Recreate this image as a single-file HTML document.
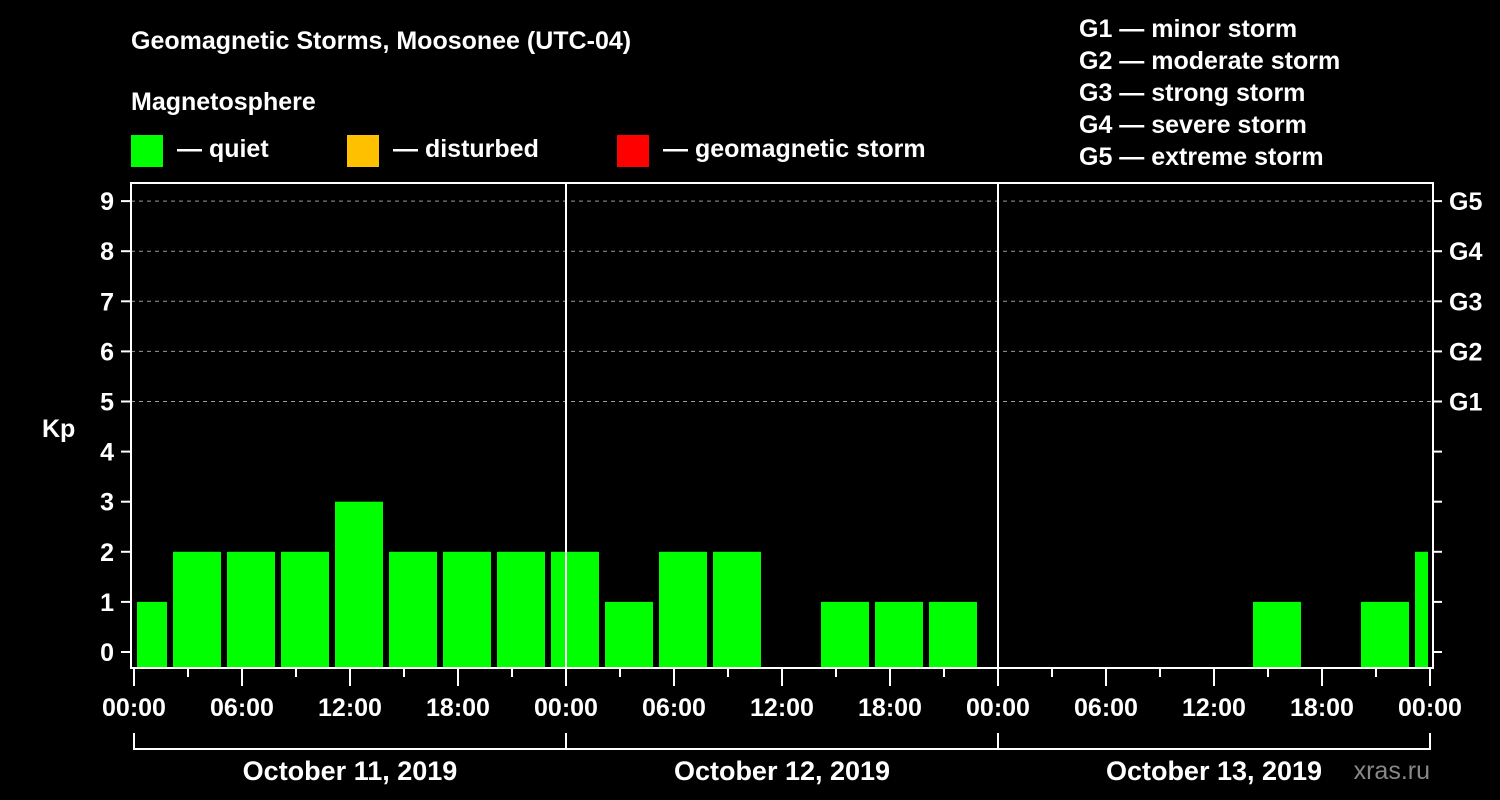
<!DOCTYPE html>
<html><head><meta charset="utf-8"><style>
html,body{margin:0;padding:0;background:#000;}
svg{display:block;font-family:"Liberation Sans",Arial,sans-serif;font-weight:bold;}
</style></head><body>
<svg id="chart" width="1500" height="800" viewBox="0 0 1500 800">
<rect x="0" y="0" width="1500" height="800" fill="#000"/>
<text x="131" y="49" fill="#fff" font-size="25">Geomagnetic Storms, Moosonee (UTC-04)</text>
<text x="131" y="110" fill="#fff" font-size="25">Magnetosphere</text>
<g><rect x="131" y="135" width="32" height="32" fill="#00ff00"/><text x="177" y="157" fill="#fff" font-size="25">— quiet</text></g>
<g><rect x="347" y="135" width="32" height="32" fill="#ffc000"/><text x="393" y="157" fill="#fff" font-size="25">— disturbed</text></g>
<g><rect x="617" y="135" width="32" height="32" fill="#ff0000"/><text x="663" y="157" fill="#fff" font-size="25">— geomagnetic storm</text></g>
<g fill="#fff" font-size="25">
<text x="1079" y="37">G1 — minor storm</text>
<text x="1079" y="69">G2 — moderate storm</text>
<text x="1079" y="101">G3 — strong storm</text>
<text x="1079" y="133">G4 — severe storm</text>
<text x="1079" y="165">G5 — extreme storm</text>
</g>
<text x="42" y="437" fill="#fff" font-size="25">Kp</text>
<text x="1430" y="779" fill="#888" font-size="25" text-anchor="end" font-weight="normal">xras.ru</text>
<g id="plot"></g>
</svg>
<script>
const kpValues=[1,2,2,2,3,2,2,2,2,1,2,2,0,1,1,1,0,0,0,0,0,1,0,1,2];
const startHour=-1;
const yTicks=[0,1,2,3,4,5,6,7,8,9];
const gLabels=["G1","G2","G3","G4","G5"];
const gLevels=[5,6,7,8,9];
const xTickLabels=["00:00","06:00","12:00","18:00","00:00","06:00","12:00","18:00","00:00","06:00","12:00","18:00","00:00"];
const dayLabels=["October 11, 2019","October 12, 2019","October 13, 2019"];

const NS="http://www.w3.org/2000/svg";
const g=document.getElementById('plot');
const L=131,R=1433,T=183,B=668,X0=134,X1=1430,totalH=72;
const x=h=>X0+(X1-X0)*h/totalH;
const y=v=>652-50.1*v;
function mk(tag,attrs,parent){const e=document.createElementNS(NS,tag);for(const k in attrs)e.setAttribute(k,attrs[k]);(parent||g).appendChild(e);return e;}
// grid
gLevels.forEach(v=>{const l=mk('line',{x1:L,x2:R,y1:y(v),y2:y(v),stroke:'#999','stroke-dasharray':'4,4','stroke-width':1});

});
// bars
kpValues.forEach((v,i)=>{
 if(v<=0)return;
 let h0=startHour+3*i,h1=h0+3;
 let xa=Math.max(x(h0)+3,X0+3),xb=Math.min(x(h1)-3,X1-2);
 const r=mk('rect',{x:xa,y:y(v),width:xb-xa,height:667-y(v),fill:v>=5?'#ff0000':(v>=4?'#ffc000':'#00ff00')});
 
 
});
// frame and day separators
const fr=mk('rect',{x:L,y:T,width:R-L,height:B-T,fill:'none',stroke:'#fff','stroke-width':2});


[24,48].forEach(h=>{const l=mk('line',{x1:x(h),x2:x(h),y1:T,y2:B,stroke:'#fff','stroke-width':2});

});
// y ticks
yTicks.forEach(v=>{
 const a=mk('line',{x1:121,x2:L,y1:y(v),y2:y(v),stroke:'#fff','stroke-width':2});
 
 
 const b=mk('line',{x1:R,x2:1442,y1:y(v),y2:y(v),stroke:'#fff','stroke-width':2});
 
 
 const t=mk('text',{x:114,y:y(v)+9,fill:'#fff','font-size':25,'text-anchor':'end'});t.textContent=v;
 
 
});
gLabels.forEach((s,i)=>{const t=mk('text',{x:1449,y:y(gLevels[i])+9,fill:'#fff','font-size':25});t.textContent=s;
 
 });
// x ticks
for(let h=0;h<=totalH;h+=3){const major=h%6===0;
 const l=mk('line',{x1:x(h),x2:x(h),y1:B,y2:major?686:677,stroke:'#fff','stroke-width':2});
 
 }
xTickLabels.forEach((s,i)=>{const t=mk('text',{x:x(i*6),y:716,fill:'#fff','font-size':25,'text-anchor':'middle'});t.textContent=s;
 
 });
// day brackets
mk('line',{x1:X0,x2:X1,y1:749,y2:749,stroke:'#fff','stroke-width':2});
[0,24,48,72].forEach(h=>{const l=mk('line',{x1:x(h),x2:x(h),y1:733,y2:750,stroke:'#fff','stroke-width':2});
 
 });
dayLabels.forEach((s,i)=>{const t=mk('text',{x:x(i*24+12),y:780,fill:'#fff','font-size':27,'text-anchor':'middle'});t.textContent=s;
 
 });
</script>
</body></html>
